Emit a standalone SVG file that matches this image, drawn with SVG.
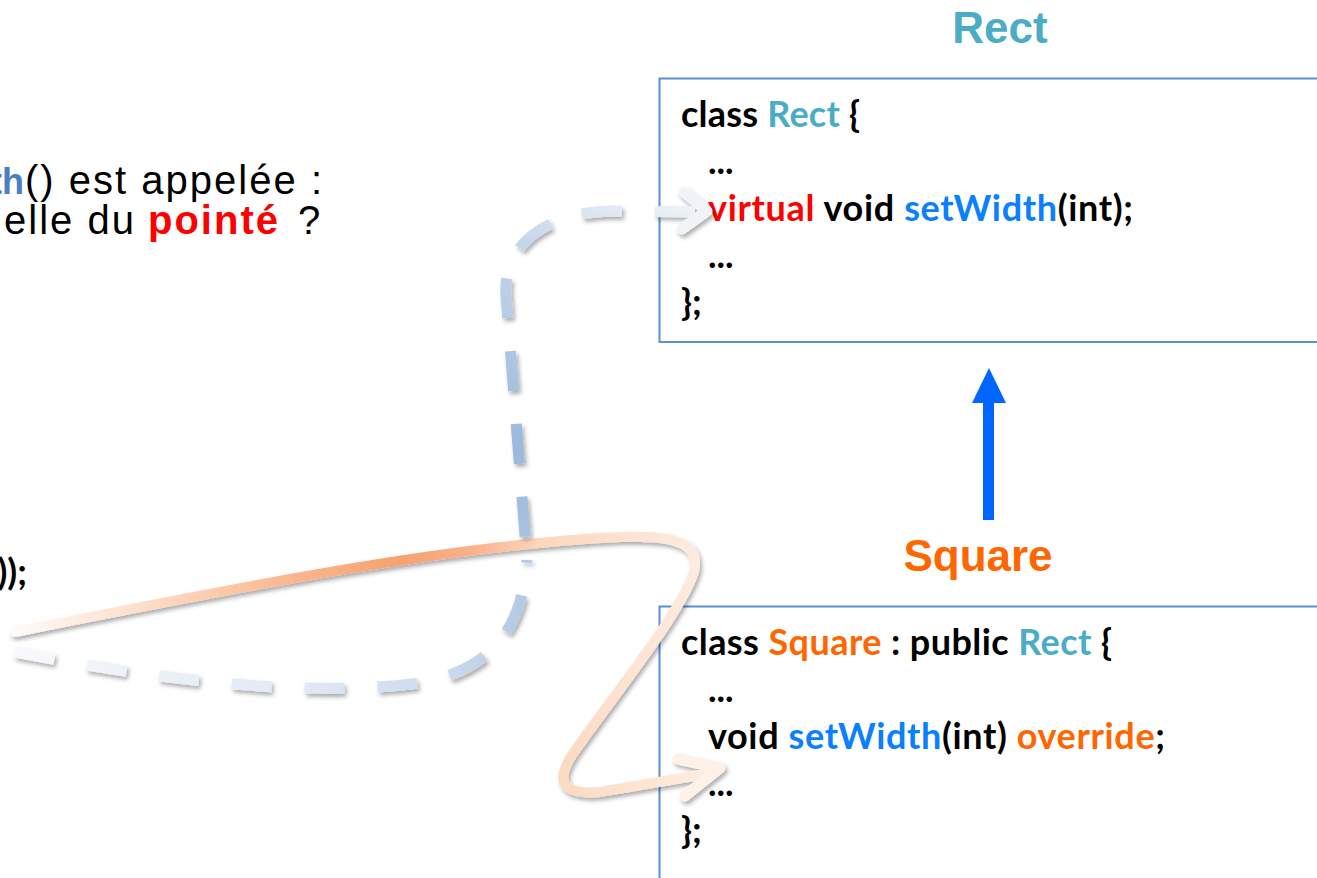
<svg xmlns="http://www.w3.org/2000/svg" width="1317" height="878" viewBox="0 0 1317 878">
<style>
.code{font-family:Lato,"Open Sans",sans-serif;font-weight:bold;font-size:36px;fill:#000}
.title{font-family:"Liberation Sans",Arial,sans-serif;font-weight:bold;font-size:44px;text-anchor:middle}
.prose{font-family:"Liberation Sans",Arial,sans-serif;font-size:40px;fill:#000}
.box{fill:#fff;stroke:#5a8fd8;stroke-width:2}
.teal{fill:#4bacc6}
.red{fill:#ff0000}
.blue{fill:#0a80ff}
.orange{fill:#ff6600}
.dash{fill:none;stroke-width:11;stroke-dasharray:40 33;stroke-linecap:butt}
.chev{fill:none;stroke-width:11;stroke-linecap:round;stroke-linejoin:round}
</style>
<defs>
<filter id="sh" filterUnits="userSpaceOnUse" x="0" y="0" width="1317" height="878">
<feDropShadow dx="2" dy="3" stdDeviation="2" flood-color="#000" flood-opacity="0.33"/>
</filter>
<linearGradient id="gOr" gradientUnits="userSpaceOnUse" x1="15" y1="0" x2="720" y2="0">
<stop offset="0" stop-color="#fffaf7"/>
<stop offset="0.15" stop-color="#fde3d2"/>
<stop offset="0.4" stop-color="#f9b68c"/>
<stop offset="0.55" stop-color="#f6a26f"/>
<stop offset="0.645" stop-color="#f8b18a"/>
<stop offset="0.745" stop-color="#fcd6bd"/>
<stop offset="0.86" stop-color="#fde2d0"/>
<stop offset="1" stop-color="#feeee4"/>
</linearGradient>
<linearGradient id="gBlA" gradientUnits="userSpaceOnUse" x1="15" y1="0" x2="527" y2="0">
<stop offset="0" stop-color="#f7f9fc"/>
<stop offset="0.55" stop-color="#e1e9f3"/>
<stop offset="0.85" stop-color="#cbdaeb"/>
<stop offset="1" stop-color="#b2c9e3"/>
</linearGradient>
<linearGradient id="gBlB" gradientUnits="userSpaceOnUse" x1="515" y1="540" x2="700" y2="212">
<stop offset="0" stop-color="#a9c3e1"/>
<stop offset="0.21" stop-color="#9cb9da"/>
<stop offset="0.365" stop-color="#a8c2e0"/>
<stop offset="0.53" stop-color="#b8cde6"/>
<stop offset="0.7" stop-color="#c6d6ea"/>
<stop offset="0.865" stop-color="#dce6f2"/>
<stop offset="1" stop-color="#eef3f9"/>
</linearGradient>
</defs>

<g id="left-text">
<text class="prose" x="24" y="194" text-anchor="end" style="font-weight:bold;font-size:36px;fill:#4a7fc1">th</text>
<text class="prose" x="25" y="194" textLength="297" lengthAdjust="spacing">() est appelée :</text>
<text class="prose" x="4" y="234" textLength="130" lengthAdjust="spacing">elle du</text>
<text class="prose" x="148" y="234" textLength="130" lengthAdjust="spacing" style="font-weight:bold;fill:#ff0000">pointé</text>
<text class="prose" x="298" y="234">?</text>
<text class="code" x="27" y="585" text-anchor="end">));</text>
</g>

<g id="node-rect">
<text class="title teal" x="1000" y="43">Rect</text>
<rect class="box" x="659.5" y="78.5" width="700" height="263.5"/>
<text class="code" x="681" y="127" textLength="179" lengthAdjust="spacing">class <tspan class="teal">Rect</tspan> {</text>
<text class="code" x="708" y="174">...</text>
<text class="code" x="708" y="221" textLength="425" lengthAdjust="spacing"><tspan class="red">virtual</tspan> void <tspan class="blue">setWidth</tspan>(int);</text>
<text class="code" x="708" y="268">...</text>
<text class="code" x="681" y="315">};</text>
</g>

<g id="node-square">
<text class="title orange" x="978" y="571">Square</text>
<rect class="box" x="659.5" y="606.5" width="700" height="300"/>
<text class="code" x="681" y="655" textLength="431" lengthAdjust="spacing">class <tspan class="orange">Square</tspan> : public <tspan class="teal">Rect</tspan> {</text>
<text class="code" x="708" y="702">...</text>
<text class="code" x="708" y="749" textLength="457" lengthAdjust="spacing">void <tspan class="blue">setWidth</tspan>(int) <tspan class="orange">override</tspan>;</text>
<text class="code" x="708" y="796">...</text>
<text class="code" x="681" y="843">};</text>
</g>

<g id="connectors">
<g id="inherit-arrow">
<rect x="983" y="398" width="11" height="122" fill="#0066ff"/>
<polygon points="989,368 1006,403 972,403" fill="#0066ff"/>
</g>
<g id="orange-call" filter="url(#sh)">
<path d="M 15,632 C 250,585 450,545 620,537 C 680,535 700,545 694,572 C 680,615 610,700 572,755 C 555,782 562,795 600,792 L 706,774" fill="none" stroke="url(#gOr)" stroke-width="10" stroke-linecap="round"/>
<path class="chev" d="M 678,759 L 720,768 L 685,796" stroke="#fef1e8"/>
</g>
<g id="blue-call" filter="url(#sh)">
<path class="dash" d="M 15,652 C 200,688 330,695 420,683 C 480,672 522,640 527,560" stroke="url(#gBlA)"/>
<path class="dash" d="M 695,212 L 610,211 C 545,213 503,245 506,295 L 527,560" stroke="url(#gBlB)"/>
<path class="chev" d="M 684,192 L 707,211 L 682,229" stroke="#f0f4f9"/>
</g>
</g>
</svg>
